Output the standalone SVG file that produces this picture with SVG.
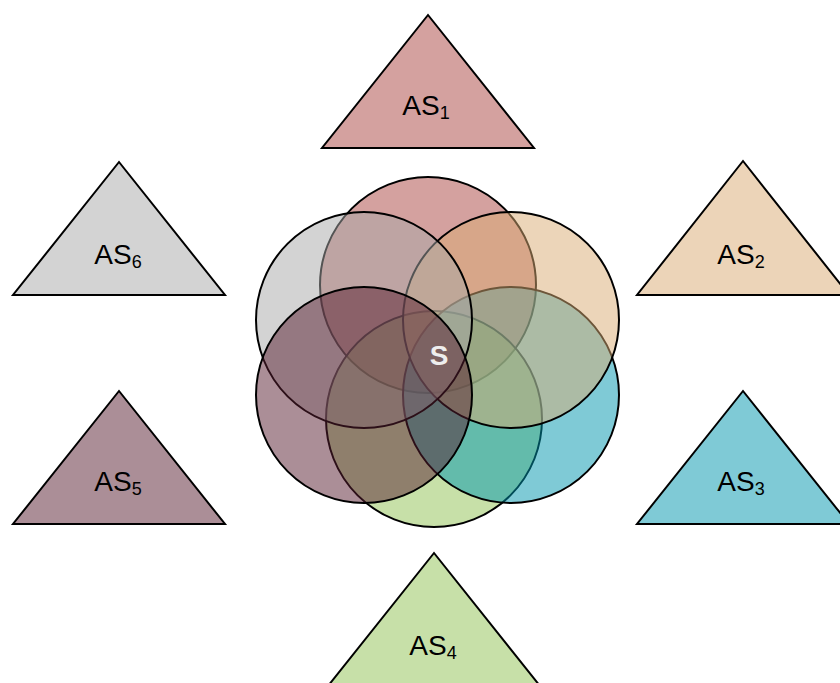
<svg xmlns="http://www.w3.org/2000/svg" width="840" height="683" viewBox="0 0 840 683">
  <style>
    .tri { stroke: #000; stroke-width: 2; stroke-linejoin: miter; }
    .lbl { font-family: "Liberation Sans", Arial, sans-serif; font-size: 28px; fill: #000; text-anchor: middle; }
    .sub { font-size: 18px; }
    .set { stroke: #000; stroke-width: 2; fill-opacity: 0.5; }
    .s { font-family: "Liberation Sans", Arial, sans-serif; font-size: 28px; font-weight: bold; fill: #eeeeee; text-anchor: middle; }
  </style>
  <rect width="840" height="683" fill="#ffffff"/>

  <g id="AS1">
    <polygon class="tri" points="428,15 322,148 534,148" fill="#d4a19f"/>
    <text class="lbl" x="426" y="115">AS<tspan class="sub" dy="4">1</tspan></text>
  </g>
  <g id="AS2">
    <polygon class="tri" points="743,161 637,295 849,295" fill="#ecd4b8"/>
    <text class="lbl" x="741" y="264">AS<tspan class="sub" dy="4">2</tspan></text>
  </g>
  <g id="AS3">
    <polygon class="tri" points="743,391 637,524 849,524" fill="#7fcad6"/>
    <text class="lbl" x="741" y="491">AS<tspan class="sub" dy="4">3</tspan></text>
  </g>
  <g id="AS4">
    <polygon class="tri" points="434,553 328,686 540,686" fill="#c7e0a8"/>
    <text class="lbl" x="433" y="655">AS<tspan class="sub" dy="4">4</tspan></text>
  </g>
  <g id="AS5">
    <polygon class="tri" points="119,391 13,524 225,524" fill="#ab8e97"/>
    <text class="lbl" x="118" y="491">AS<tspan class="sub" dy="4">5</tspan></text>
  </g>
  <g id="AS6">
    <polygon class="tri" points="119,162 13,295 225,295" fill="#d3d3d3"/>
    <text class="lbl" x="118" y="264">AS<tspan class="sub" dy="4">6</tspan></text>
  </g>

  <g id="S">
    <circle class="set" cx="428" cy="285" r="108" fill="#a9433f"/>
    <circle class="set" cx="434" cy="419" r="108" fill="#8fc151"/>
    <circle class="set" cx="511" cy="395" r="108" fill="#0095ad"/>
    <circle class="set" cx="511" cy="320" r="108" fill="#d9ab73"/>
    <circle class="set" cx="364" cy="320" r="108" fill="#a7a7a7"/>
    <circle class="set" cx="364" cy="395" r="108" fill="#571d2f"/>
    <text class="s" x="439" y="365">S</text>
  </g>
  <g id="connectors"/>
</svg>
